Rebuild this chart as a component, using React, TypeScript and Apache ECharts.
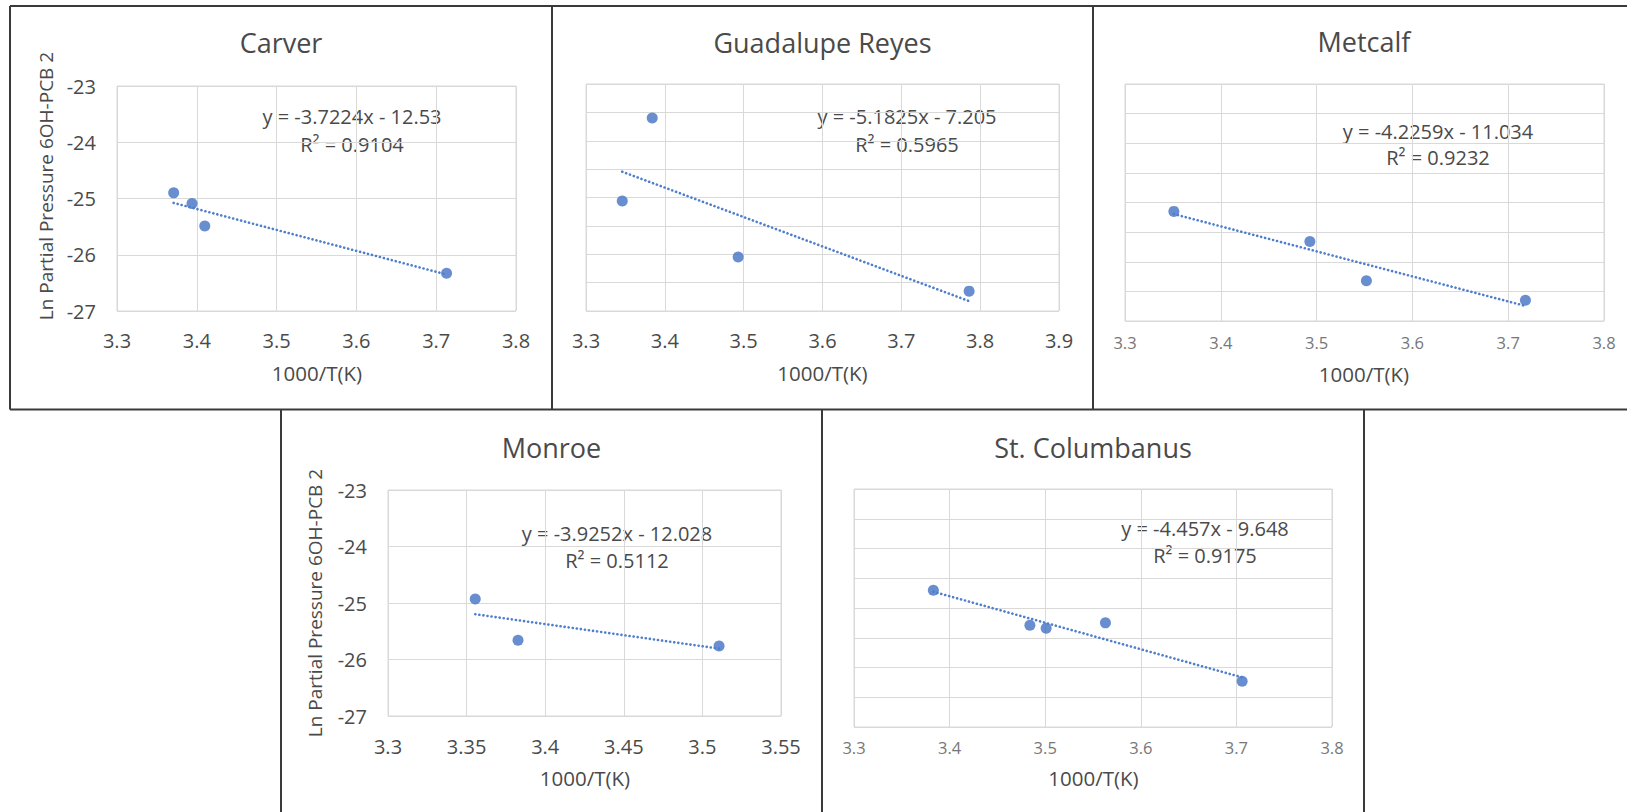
import React, { useEffect, useRef } from "react";
import * as echarts from "echarts";

// ---- data ----
const carverX = [3.371, 3.394, 3.41, 3.713];
const carverY = [-24.9, -25.09, -25.49, -26.33];
const guadalupeX = [3.384, 3.346, 3.493, 3.786];
const guadalupeY = [-23.6, -25.06, -26.05, -26.65];
const metcalfX = [3.351, 3.493, 3.552, 3.718];
const metcalfY = [-25.15, -25.66, -26.32, -26.65];
const monroeX = [3.3555, 3.3827, 3.5106];
const monroeY = [-24.93, -25.66, -25.76];
const columbanusX = [3.383, 3.484, 3.501, 3.563, 3.706];
const columbanusY = [-24.7, -25.29, -25.34, -25.25, -26.23];

const siteNames = ["Carver", "Guadalupe Reyes", "Metcalf", "Monroe", "St. Columbanus"];
const slopes = [-3.7224, -5.1825, -4.2259, -3.9252, -4.457];
const intercepts = [-12.53, -7.205, -11.034, -12.028, -9.648];
const rSquared = [0.9104, 0.5965, 0.9232, 0.5112, 0.9175];
const xMins = [3.3, 3.3, 3.3, 3.3, 3.3];
const xMaxs = [3.8, 3.9, 3.8, 3.55, 3.8];
const xIntervals = [0.1, 0.1, 0.1, 0.05, 0.1];
const yMins = [-27, -27, -27, -27, -27];
const yMaxs = [-23, -23, -23, -23, -23];
const yIntervals = [1, 0.5, 0.5, 1, 0.5];
const xAxisTitle = "1000/T(K)";
const yAxisTitle = "Ln Partial Pressure 6OH-PCB 2";

const xsList = [carverX, guadalupeX, metcalfX, monroeX, columbanusX];
const ysList = [carverY, guadalupeY, metcalfY, monroeY, columbanusY];

// ---- layout / styling ----
const FONT = '"Open Sans", "Noto Sans", sans-serif';
const TEXT = "#4a4a4a";
const BLUE = "#4472C4";
const GRID = "#d9d9d9";
const BORDER = "#3a3a3a";

const layout = [
  { grid: { left: 117, top: 86, width: 399, height: 225 }, title: [281, 42], eq: [352, 116.6, 144], xt: [317, 372.5], yt: [46, 186], yLabels: true, small: false, xMargin: 19 },
  { grid: { left: 586, top: 84, width: 473, height: 227 }, title: [822.5, 42], eq: [907, 116.7, 144], xt: [822.5, 373], yt: null, yLabels: false, small: false, xMargin: 19 },
  { grid: { left: 1125, top: 84, width: 479, height: 237 }, title: [1364, 41], eq: [1438, 131, 157.7], xt: [1364, 374], yt: null, yLabels: false, small: true, xMargin: 13.5 },
  { grid: { left: 388, top: 490, width: 393, height: 226 }, title: [551.5, 447], eq: [617, 533.3, 560], xt: [585, 778], yt: [315, 603], yLabels: true, small: false, xMargin: 20 },
  { grid: { left: 854, top: 489, width: 478, height: 238 }, title: [1093, 447], eq: [1205, 528.3, 555], xt: [1093.5, 778], yt: null, yLabels: false, small: true, xMargin: 12.5 },
];

function txt(text: string, x: number, y: number, size: number, rotation = 0) {
  return {
    type: "text",
    x,
    y,
    rotation,
    silent: true,
    style: {
      text,
      fill: TEXT,
      font: `${size}px ${FONT}`,
      align: "center",
      verticalAlign: "middle",
    },
  };
}

function line(x1: number, y1: number, x2: number, y2: number) {
  return {
    type: "line",
    silent: true,
    shape: { x1, y1, x2, y2 },
    style: { stroke: BORDER, lineWidth: 2 },
  };
}

function buildOption() {
  const grids: any[] = [];
  const xAxes: any[] = [];
  const yAxes: any[] = [];
  const series: any[] = [];
  const graphics: any[] = [];

  layout.forEach((L, i) => {
    grids.push({ ...L.grid, show: true, borderColor: GRID, borderWidth: 1, containLabel: false });
    const lblSize = L.small ? 16.5 : 20;
    const lblColor = L.small ? "#777777" : TEXT;
    xAxes.push({
      type: "value",
      gridIndex: i,
      min: xMins[i],
      max: xMaxs[i],
      interval: xIntervals[i],
      axisLine: { show: false },
      axisTick: { show: false },
      splitLine: { show: true, lineStyle: { color: GRID, width: 1 } },
      axisLabel: {
        show: true,
        margin: L.xMargin,
        color: lblColor,
        fontFamily: FONT,
        fontSize: lblSize,
        lineHeight: lblSize,
      },
    });
    yAxes.push({
      type: "value",
      gridIndex: i,
      min: yMins[i],
      max: yMaxs[i],
      interval: yIntervals[i],
      axisLine: { show: false },
      axisTick: { show: false },
      splitLine: { show: true, lineStyle: { color: GRID, width: 1 } },
      axisLabel: {
        show: L.yLabels,
        margin: 21,
        color: TEXT,
        fontFamily: FONT,
        fontSize: 20,
      },
    });
    const xs = xsList[i];
    const ys = ysList[i];
    series.push({
      type: "scatter",
      xAxisIndex: i,
      yAxisIndex: i,
      symbol: "circle",
      symbolSize: 11,
      itemStyle: { color: BLUE },
      data: xs.map((x, k) => [x, ys[k]]),
      z: 3,
    });
    const lo = Math.min(...xs);
    const hi = Math.max(...xs);
    series.push({
      type: "line",
      xAxisIndex: i,
      yAxisIndex: i,
      symbol: "none",
      silent: true,
      lineStyle: { color: "#4f7fcc", width: 2.6, type: [0.1, 4], cap: "round" },
      data: [
        [lo, slopes[i] * lo + intercepts[i]],
        [hi, slopes[i] * hi + intercepts[i]],
      ],
      z: 4,
    });

    graphics.push(txt(siteNames[i], L.title[0], L.title[1], 27));
    const eqText = `y = ${slopes[i]}x - ${Math.abs(intercepts[i])}`;
    graphics.push(txt(eqText, L.eq[0], L.eq[1], 20));
    graphics.push(txt(`R² = ${rSquared[i]}`, L.eq[0], L.eq[2], 20));
    graphics.push(txt(xAxisTitle, L.xt[0], L.xt[1], 20.5));
    if (L.yt) graphics.push(txt(yAxisTitle, L.yt[0], L.yt[1], 19, Math.PI / 2));
  });

  // panel frames
  graphics.push(line(10, 6, 1627, 6));
  graphics.push(line(10, 409.5, 1627, 409.5));
  graphics.push(line(10, 6, 10, 409.5));
  graphics.push(line(552, 6, 552, 409.5));
  graphics.push(line(1093, 6, 1093, 409.5));
  graphics.push(line(281, 409.5, 281, 812));
  graphics.push(line(822, 409.5, 822, 812));
  graphics.push(line(1364, 409.5, 1364, 812));

  return {
    animation: false,
    backgroundColor: "#ffffff",
    textStyle: { fontFamily: FONT },
    grid: grids,
    xAxis: xAxes,
    yAxis: yAxes,
    series,
    graphic: graphics,
  };
}

export default function App() {
  const ref = useRef<HTMLDivElement>(null);
  useEffect(() => {
    if (!ref.current) return;
    const chart = echarts.init(ref.current, undefined, { renderer: "svg" });
    chart.setOption(buildOption() as any);
    return () => chart.dispose();
  }, []);
  return (
    <div
      ref={ref}
      style={{ position: "absolute", left: 0, top: 0, width: 1627, height: 812, background: "#fff" }}
    />
  );
}
